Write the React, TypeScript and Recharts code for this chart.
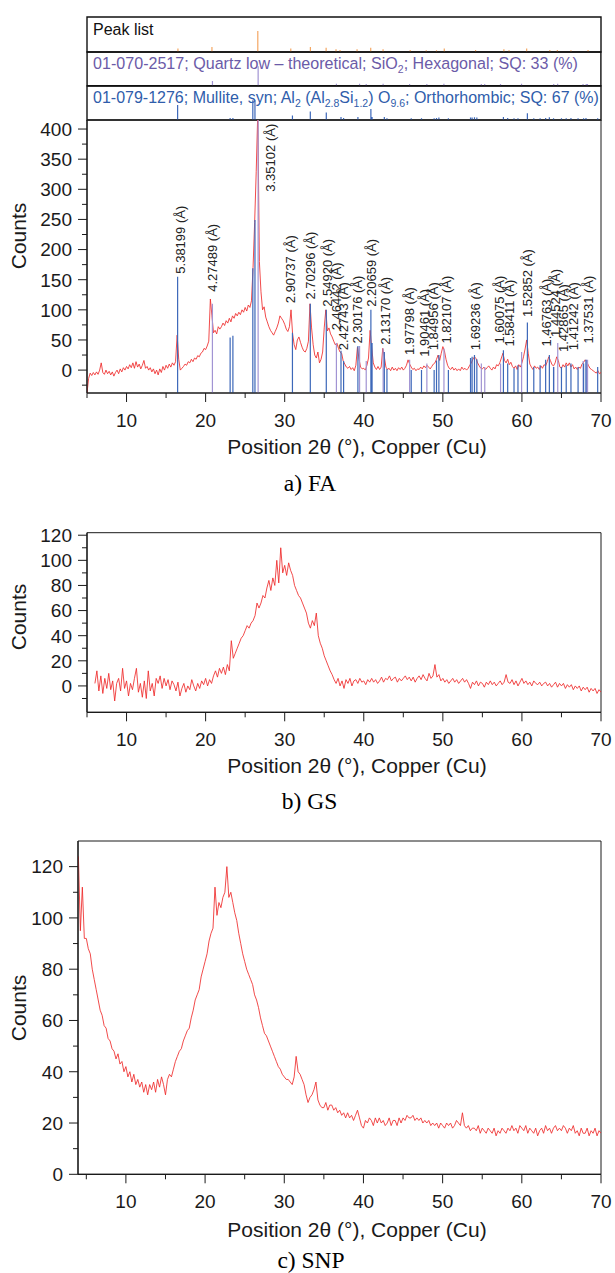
import React from 'react';
import { ComposedChart, Line, Scatter, XAxis, YAxis, ReferenceArea } from 'recharts';

const SANS = '"Liberation Sans", Arial, Helvetica, sans-serif';
const SERIF = '"Liberation Serif", "Times New Roman", serif';
const INK = '#1a1a1a';
const RED = '#ee2b2b';
const MULLITE = '#3d68b9';
const QUARTZ = '#a194d3';
const PEAK = '#f4a763';

// ---------- tick labels ----------
const xTicks = [5, 10, 15, 20, 25, 30, 35, 40, 45, 50, 55, 60, 65, 70];
const faYTicks = [-25, 0, 25, 50, 75, 100, 125, 150, 175, 200, 225, 250, 275, 300, 325, 350, 375, 400];
const gsYTicks = [-10, 0, 10, 20, 30, 40, 50, 60, 70, 80, 90, 100, 110, 120];
const snpYTicks = [0, 10, 20, 30, 40, 50, 60, 70, 80, 90, 100, 110, 120];

// ---------- FA pattern (2θ from 5°, step 0.2°) ----------
const faStart = 5;
const faStep = 0.2;
const faCounts = [
  -38, -14, -5, -9, -4,
  -8, -3, -7, 0, 12,
  -4, -7, 0, -6, -2,
  -8, -3, -10, -4, 0,
  -6, 2, -3, 4, 0,
  6, 2, 9, 4, 12,
  3, 14, 5, 10, 2,
  8, 16, 3, 6, 0,
  4, -3, 2, -6, 0,
  -8, 2, -4, 6, 0,
  8, 3, 10, 5, 12,
  8, 14, 58, 18, 0,
  3, 6, 10, 8, 14,
  12, 18, 14, 20, 18,
  24, 22, 28, 30, 36,
  34, 40, 48, 118, 90,
  62, 66, 60, 72, 68,
  72, 78, 74, 82, 78,
  86, 80, 90, 86, 94,
  90, 96, 92, 100, 96,
  104, 98, 108, 104, 115,
  170, 245, 330, 430, 180,
  130, 100, 105, 88, 80,
  72, 66, 62, 58, 64,
  70, 78, 90, 86, 82,
  76, 68, 64, 72, 100,
  60, 42, 34, 50, 55,
  46, 38, 32, 30, 36,
  48, 110, 70, 42, 25,
  20, 30, 12, 18, 30,
  70, 100, 65, 70, 60,
  55, 48, 42, 45, 36,
  30, 28, 15, 10, 5,
  3, 6, 1, 4, -1,
  8, 38, 18, 5, 2,
  3, 0, 8, 20, 66,
  38, 12, 5, 1, 6,
  1, 5, 36, 22, 5,
  1, 3, -1, 5, 0,
  3, -1, 4, 1, 5,
  0, 3, 8, 17, 10,
  5, 1, 3, -1, 2,
  1, 5, 2, 7, 4,
  8, 5, 2, 6, 10,
  12, 18, 25, 16, 28,
  39, 32, 18, 8, 3,
  1, 5, 0, 3, -1,
  2, -1, 5, 1, 3,
  0, 3, 8, 12, 18,
  22, 19, 12, 7, 3,
  2, 5, 1, 4, 7,
  3, 0, 5, 2, 9,
  7, 12, 20, 28, 16,
  12, 18, 9, 13, 6,
  3, 7, 1, 9, 5,
  12, 22, 35, 50, 28,
  10, 5, 1, 7, 3,
  5, 1, 7, 3, 9,
  7, 14, 22, 16, 9,
  7, 12, 22, 16, 5,
  3, 9, 5, 12, 7,
  12, 5, 9, 2, 5,
  1, 5, 3, 10, 13,
  17, 14, 8, 3, 1,
  -1, -3, -5, -1, -6,
  -4,
];

// reference sticks: Mullite (01-079-1276)
const mullitePos = [16.46, 23.1, 23.45, 25.97, 26.24, 30.98, 33.24, 35.26, 37.12, 37.45, 39.26, 40.9, 41.05, 42.6, 42.93, 46.0, 47.3, 48.9, 49.2, 49.5, 50.7, 53.5, 53.7, 54.0, 54.3, 57.66, 58.2, 59.0, 59.5, 60.69, 61.5, 62.3, 63.0, 63.47, 64.0, 65.0, 65.6, 66.2, 67.1, 67.8, 68.1, 69.58];
const mulliteMain = [155, 54, 57, 169, 249, 62, 110, 100, 32, 15, 40, 100, 45, 30, 2, 0, 0, 0, 16, 25, 0, 20, 22, 25, 18, 33, 11, 3, 8, 79, 5, 8, 17, 25, 5, 5, 8, 11, 5, 11, 17, 5];
const mulliteHdr = [44, 6, 6, 58, 58, 13, 25, 22, 9, 6, 9, 32, 9, 9, 5, 5, 5, 5, 6, 7, 5, 7, 7, 8, 7, 9, 6, 5, 5, 20, 5, 5, 6, 8, 5, 5, 5, 6, 5, 5, 6, 5];

// reference sticks: Quartz low (01-070-2517)
const quartzPos = [20.86, 26.64, 36.54, 39.47, 40.31, 42.45, 45.8, 47.98, 50.14, 54.87, 55.3, 57.3, 59.96, 64.03, 64.53, 67.74, 68.14, 68.3];
const quartzMain = [110, 430, 45, 40, 15, 36, 17, 11, 36, 11, 5, 11, 30, 5, 45, 15, 17, 17];
const quartzHdr = [14, 58, 6, 6, 5, 6, 5, 5, 6, 5, 5, 5, 6, 5, 6, 5, 5, 5];

// peak list
const peakPos = [16.5, 20.8, 26.6, 30.77, 33.25, 35.24, 36.49, 37.0, 39.15, 40.88, 42.44, 45.87, 47.9, 49.2, 50.18, 54.14, 57.72, 58.37, 60.6, 63.53, 64.48, 66.2, 68.36];
const peakH = [10, 14, 60, 10, 14, 12, 8, 6, 8, 12, 8, 6, 5, 5, 10, 6, 8, 5, 10, 6, 6, 5, 6];

// d-spacing labels
const faLabelPos = [16.8, 20.9, 28.19, 30.71, 33.24, 35.45, 36.61, 37.45, 39.22, 40.91, 42.71, 45.78, 47.64, 48.82, 50.45, 54.08, 57.15, 58.42, 60.74, 63.14, 64.19, 65.24, 66.5, 68.39];
const faLabelD = ['5.38199', '4.27489', '3.35102', '2.90737', '2.70296', '2.54920', '2.46442', '2.42743', '2.30176', '2.20659', '2.13170', '1.97798', '1.90461', '1.84956', '1.82107', '1.69236', '1.60075', '1.58411', '1.52852', '1.46763', '1.44524', '1.42865', '1.41242', '1.37531'];
const faLabelBase = [160, 130, 296, 111, 117, 105, 66, 33, 44, 105, 42, 25, 22, 33, 44, 33, 44, 39, 88, 39, 55, 30, 33, 44];

// ---------- GS pattern (from 6°, step 0.25°) ----------
const gsStart = 6;
const gsStep = 0.25;
const gsCounts = [
  2, 12, -4, 8,
  -6, 6, -2, 10,
  -3, 4, -12, 2,
  6, -4, 14, -2,
  4, -8, 2, -3,
  6, 14, -5, 2,
  -9, 4, -10, 12,
  -4, 2, -8, 6,
  2, 8, -2, 6,
  0, 5, -3, 4,
  1, -4, 3, -8,
  -2, 2, -5, 0,
  -3, 5, 0, -4,
  2, -2, 4, 1,
  6, 0, 5, 2,
  8, 12, 7, 14,
  10, 15, 9, 17,
  12, 36, 22, 26,
  30, 34, 38, 40,
  44, 48, 46, 50,
  52, 56, 66, 62,
  66, 72, 70, 78,
  84, 76, 86, 80,
  100, 82, 110, 90,
  96, 88, 98, 92,
  88, 80, 76, 72,
  70, 66, 62, 58,
  50, 46, 52, 48,
  58, 40, 34, 30,
  24, 20, 16, 12,
  9, 5, 2, 6,
  0, 4, -2, 5,
  2, 6, 0, 4,
  5, 2, 6, 3,
  4, 1, 5, 3,
  6, 3, 5, 2,
  4, 7, 3, 6,
  5, 8, 4, 6,
  7, 3, 6, 4,
  6, 8, 5, 7,
  4, 7, 3, 6,
  8, 5, 9, 6,
  4, 10, 6, 8,
  17, 7, 9, 4,
  6, 3, 5, 2,
  4, 6, 3, 5,
  2, 4, 6, 3,
  5, 2, -2, 3,
  1, 4, 0, 3,
  2, -1, 3, 1,
  4, 1, 3, 0,
  2, 4, 1, 3,
  9, 3, 2, 5,
  1, 4, 0, 3,
  6, 2, 4, 1,
  3, 0, 4, 2,
  1, 3, 0, 2,
  3, 0, 2, -1,
  1, 3, -1, 2,
  0, 2, -2, 1,
  -1, 1, -3, 0,
  -2, 0, -4, -1,
  -3, -1, -5, -2,
  -4, -2, -6, -3,
  -5,
];

// ---------- SNP pattern (from 4°, step 0.25°) ----------
const snpStart = 4;
const snpStep = 0.25;
const snpCounts = [
  124, 95, 112, 92,
  92, 88, 86, 80,
  76, 72, 68, 64,
  62, 58, 57, 53,
  52, 49, 48, 45,
  47, 43, 44, 40,
  42, 38, 40, 36,
  39, 35, 37, 34,
  36, 32, 35, 31,
  35, 33, 36, 32,
  37, 34, 38, 35,
  31, 37, 39, 38,
  41, 44, 46, 48,
  49, 52, 54, 56,
  57, 61, 64, 68,
  70, 72, 77, 80,
  83, 86, 91, 94,
  96, 112, 101, 106,
  104, 108, 110, 120,
  108, 110, 106, 102,
  99, 94, 90, 86,
  83, 80, 78, 76,
  74, 70, 68, 65,
  61, 58, 55, 54,
  52, 50, 48, 46,
  44, 42, 41, 39,
  38, 37, 37, 36,
  35, 38, 46, 40,
  39, 37, 35, 31,
  28, 30, 31, 33,
  36, 29, 27, 26,
  26, 28, 25, 27,
  27, 25, 26, 24,
  25, 23, 24, 22,
  24, 22, 23, 21,
  23, 25, 22, 19,
  18, 21, 20, 22,
  21, 19, 22, 20,
  22, 20, 21, 19,
  20, 22, 19, 21,
  21, 19, 22, 20,
  22, 21, 23, 22,
  22, 23, 21, 22,
  21, 22, 20, 21,
  20, 21, 19, 20,
  19, 20, 18, 20,
  19, 18, 20, 19,
  20, 18, 19, 21,
  20, 19, 24, 19,
  18, 19, 17, 18,
  18, 17, 19, 16,
  18, 17, 16, 18,
  17, 16, 18, 15,
  17, 16, 18, 17,
  16, 18, 17, 19,
  17, 18, 16, 19,
  18, 17, 19, 16,
  18, 17, 16, 18,
  15, 17, 18, 16,
  19, 17, 18, 16,
  18, 19, 17, 18,
  17, 19, 18, 16,
  18, 17, 19, 16,
  17, 15, 18, 16,
  16, 18, 15, 17,
  16, 18, 15, 17,
  16,
];

// ---------- helpers building tables ----------
const toRows = (start: number, step: number, vals: number[]) =>
  vals.map((v, i) => ({ x: +(start + i * step).toFixed(3), y: v }));

const stickRows = (pos: number[], h: number[], base: number) =>
  pos.flatMap((p, i) => [
    { x: p, y: base },
    { x: p, y: h[i] },
    { x: p, y: null as any },
  ]);

const FA_Y: [number, number] = [-38, 415];
const GS_Y: [number, number] = [-21, 122];
const SNP_Y: [number, number] = [0, 130];

const faRows = toRows(faStart, faStep, faCounts);
const gsRows = toRows(gsStart, gsStep, gsCounts);
const snpRows = toRows(snpStart, snpStep, snpCounts);
const faMullite = stickRows(mullitePos, mulliteMain, FA_Y[0]);
const faQuartz = stickRows(quartzPos, quartzMain, FA_Y[0]);
const faLabels = faLabelPos.map((x, i) => ({ x, y: faLabelBase[i], t: faLabelD[i] + ' (Å)' }));

// ---------- custom pieces ----------
const BottomTick = (props: any) => {
  const { x, y, payload } = props;
  const v = payload.value;
  const major = v % 10 === 0;
  return (
    <g>
      <line x1={x} x2={x} y1={y} y2={y + (major ? 9 : 5)} stroke={INK} strokeWidth={1} />
      {major && (
        <text x={x} y={y + 34} textAnchor="middle" fontSize={19} fontFamily={SANS} fill={INK}>
          {v}
        </text>
      )}
    </g>
  );
};

const LeftTick = (props: any) => {
  const { x, y, payload, majorStep } = props;
  const v = payload.value;
  const major = Math.abs(v % majorStep) < 1e-6;
  return (
    <g>
      <line x1={x} x2={x - (major ? 9 : 5)} y1={y} y2={y} stroke={INK} strokeWidth={1} />
      {major && (
        <text x={x - 15} y={y} dy="0.36em" textAnchor="end" fontSize={19} fontFamily={SANS} fill={INK}>
          {v}
        </text>
      )}
    </g>
  );
};

const XTitles = (props: any) => {
  const { top, titleY, capX, capY, caption } = props;
  return (
    <g>
      <text x={357} y={titleY - top} textAnchor="middle" fontSize={21} fontFamily={SANS} fill={INK}>
        Position 2θ (°), Copper (Cu)
      </text>
      <text x={capX} y={capY - top} textAnchor="middle" fontSize={23.5} fontFamily={SERIF} fill="#000">
        {caption}
      </text>
    </g>
  );
};

const CountsTitle = (props: any) => {
  const { top, cy } = props;
  const x = 25.5;
  const y = cy - top;
  return (
    <text x={x} y={y} transform={`rotate(-90 ${x} ${y})`} textAnchor="middle" fontSize={21} fontFamily={SANS} fill={INK}>
      Counts
    </text>
  );
};

const DLabel = (props: any) => {
  const { cx, cy, payload } = props;
  if (cx == null || cy == null) return null;
  return (
    <text
      x={cx}
      y={cy}
      dy="0.35em"
      transform={`rotate(-90 ${cx} ${cy})`}
      textAnchor="start"
      fontSize={13}
      fontFamily={SANS}
      fill="#222"
    >
      {payload.t}
    </text>
  );
};

const HeaderText = (props: any) => {
  const { kind, y } = props;
  const x = 93;
  if (kind === 'peak') {
    return (
      <text x={x} y={y} fontSize={16} fontFamily={SANS} fill="#111">
        Peak list
      </text>
    );
  }
  if (kind === 'quartz') {
    return (
      <text x={x} y={y} fontSize={16.1} fontFamily={SANS} fill="#6b5ba8">
        01-070-2517; Quartz low – theoretical; SiO
        <tspan fontSize={10.5} dy={4}>2</tspan>
        <tspan dy={-4}>; Hexagonal; SQ: 33 (%)</tspan>
      </text>
    );
  }
  return (
    <text x={x} y={y} fontSize={16} fontFamily={SANS} fill="#2f5dab">
      01-079-1276; Mullite, syn; Al
      <tspan fontSize={10.5} dy={4}>2</tspan>
      <tspan dy={-4}> (Al</tspan>
      <tspan fontSize={10.5} dy={4}>2.8</tspan>
      <tspan dy={-4}>Si</tspan>
      <tspan fontSize={10.5} dy={4}>1.2</tspan>
      <tspan dy={-4}>) O</tspan>
      <tspan fontSize={10.5} dy={4}>9.6</tspan>
      <tspan dy={-4}>; Orthorhombic; SQ: 67 (%)</tspan>
    </text>
  );
};

// header strip chart
const HeaderStrip = (p: any) => {
  const h = p.bottom - p.top + 4;
  return (
    <div style={{ position: 'absolute', left: 0, top: p.top - 2, width: 615, height: h }}>
      <ComposedChart width={615} height={h} margin={{ top: 2, right: 14, bottom: 2, left: 87 }}>
        <XAxis type="number" dataKey="x" domain={[5, 70]} hide allowDataOverflow />
        <YAxis type="number" domain={[0, 100]} hide allowDataOverflow />
        <ReferenceArea
          x1={5}
          x2={70}
          y1={0}
          y2={100}
          fill="none"
          stroke="#111"
          strokeWidth={1.4}
          ifOverflow="visible"
          label={<HeaderText kind={p.kind} y={p.textY - p.top + 2} />}
        />
        <Line
          data={stickRows(p.pos, p.heights, 0)}
          dataKey="y"
          type="linear"
          stroke={p.color}
          strokeWidth={1.2}
          dot={false}
          isAnimationActive={false}
        />
      </ComposedChart>
    </div>
  );
};

// main XRD chart
const XrdChart = (p: any) => {
  const plotTopOff = p.plotTop - p.top;
  const xAxisH = p.height - (p.plotBottom - p.top);
  return (
    <div style={{ position: 'absolute', left: 0, top: p.top, width: 615, height: p.height }}>
      <ComposedChart width={615} height={p.height} margin={{ top: plotTopOff, right: 14, bottom: 0, left: 0 }}>
        <XAxis
          type="number"
          dataKey="x"
          domain={p.xDomain}
          ticks={xTicks}
          interval={0}
          allowDataOverflow
          height={xAxisH}
          tickSize={0}
          tickMargin={0}
          tickLine={false}
          axisLine={{ stroke: INK, strokeWidth: 1.2 }}
          tick={<BottomTick />}
          label={<XTitles top={p.top} titleY={p.titleY} capX={p.capX} capY={p.capY} caption={p.caption} />}
        />
        <YAxis
          type="number"
          domain={p.yDomain}
          ticks={p.yTicks}
          interval={0}
          allowDataOverflow
          width={p.yWidth}
          tickSize={0}
          tickMargin={0}
          tickLine={false}
          axisLine={{ stroke: INK, strokeWidth: 1.2 }}
          tick={<LeftTick majorStep={p.yMajor} />}
          label={<CountsTitle top={p.top} cy={p.countsY} />}
        />
        <ReferenceArea
          x1={p.xDomain[0]}
          x2={p.xDomain[1]}
          y1={p.yDomain[0]}
          y2={p.yDomain[1]}
          fill="none"
          stroke={INK}
          strokeWidth={1}
          ifOverflow="visible"
        />
        <Line
          data={p.rows}
          dataKey="y"
          type="linear"
          stroke={RED}
          strokeWidth={0.85}
          dot={false}
          isAnimationActive={false}
        />
        {p.extra}
      </ComposedChart>
    </div>
  );
};

export default function App() {
  const faExtra = [
    <Line key="q" data={faQuartz} dataKey="y" type="linear" stroke={QUARTZ} strokeWidth={1.2} dot={false} isAnimationActive={false} />,
    <Line key="m" data={faMullite} dataKey="y" type="linear" stroke={MULLITE} strokeWidth={1.2} dot={false} isAnimationActive={false} />,
    <Scatter key="l" data={faLabels} dataKey="y" shape={<DLabel />} isAnimationActive={false} />,
  ];
  return (
    <div
      style={{
        position: 'absolute',
        left: 0,
        top: 0,
        width: 615,
        height: 1273,
        background: '#fff',
        overflow: 'hidden',
        fontFamily: SANS,
      }}
    >
      <HeaderStrip kind="peak" top={17.3} bottom={52.3} textY={35.3} pos={peakPos} heights={peakH} color={PEAK} />
      <HeaderStrip kind="quartz" top={52.3} bottom={86} textY={73} pos={quartzPos} heights={quartzHdr} color={QUARTZ} />
      <HeaderStrip kind="mullite" top={86} bottom={120} textY={104.7} pos={mullitePos} heights={mulliteHdr} color={MULLITE} />

      <XrdChart
        top={118}
        height={380}
        plotTop={120}
        plotBottom={393}
        yWidth={87}
        xDomain={[5, 70]}
        yDomain={FA_Y}
        yTicks={faYTicks}
        yMajor={50}
        rows={faRows}
        titleY={454}
        caption="a) FA"
        capX={310}
        capY={491}
        countsY={236}
        extra={faExtra}
      />
      <XrdChart
        top={518}
        height={296}
        plotTop={532.7}
        plotBottom={712.3}
        yWidth={87}
        xDomain={[5, 70]}
        yDomain={GS_Y}
        yTicks={gsYTicks}
        yMajor={20}
        rows={gsRows}
        titleY={772.5}
        caption="b) GS"
        capX={309.5}
        capY={809}
        countsY={617}
      />
      <XrdChart
        top={839}
        height={434}
        plotTop={841}
        plotBottom={1174.3}
        yWidth={78}
        xDomain={[3.95, 70]}
        yDomain={SNP_Y}
        yTicks={snpYTicks}
        yMajor={20}
        rows={snpRows}
        titleY={1236.8}
        caption="c) SNP"
        capX={311}
        capY={1267.5}
        countsY={1008}
      />
    </div>
  );
}
